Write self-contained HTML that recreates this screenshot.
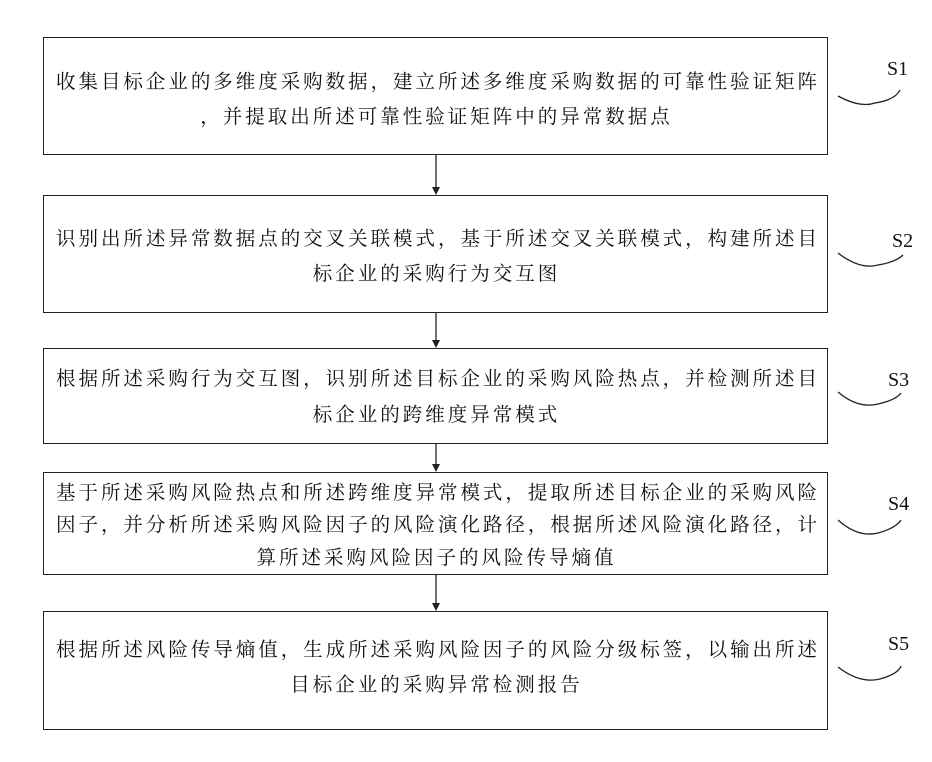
<!DOCTYPE html>
<html><head><meta charset="utf-8"><style>
body{margin:0;width:932px;height:762px;background:#fff;position:relative;overflow:hidden;font-family:"Liberation Serif","Noto Serif CJK SC","Noto Sans CJK SC",serif;color:#111}
.b{position:absolute;left:43px;width:785px;border:1.5px solid #222;box-sizing:border-box}
.l{position:absolute;left:12px;right:10px;font-size:19.5px;white-space:nowrap;text-align:justify;text-align-last:justify}
.c{text-align:center;text-align-last:center;letter-spacing:3px}
.s{position:absolute;font-size:20px;font-family:"Liberation Serif",serif}
</style></head><body>
<div class="b" style="top:37px;height:118px">
<div class="l" style="top:28px">收集目标企业的多维度采购数据，建立所述多维度采购数据的可靠性验证矩阵</div>
<div class="l c" style="top:63px">，并提取出所述可靠性验证矩阵中的异常数据点</div></div>
<div class="b" style="top:195px;height:118px">
<div class="l" style="top:27px">识别出所述异常数据点的交叉关联模式，基于所述交叉关联模式，构建所述目</div>
<div class="l c" style="top:62px">标企业的采购行为交互图</div></div>
<div class="b" style="top:348px;height:96px">
<div class="l" style="top:14px">根据所述采购行为交互图，识别所述目标企业的采购风险热点，并检测所述目</div>
<div class="l c" style="top:50px">标企业的跨维度异常模式</div></div>
<div class="b" style="top:472px;height:103px">
<div class="l" style="top:4px">基于所述采购风险热点和所述跨维度异常模式，提取所述目标企业的采购风险</div>
<div class="l" style="top:36px">因子，并分析所述采购风险因子的风险演化路径，根据所述风险演化路径，计</div>
<div class="l c" style="top:69px">算所述采购风险因子的风险传导熵值</div></div>
<div class="b" style="top:611px;height:119px">
<div class="l" style="top:22px">根据所述风险传导熵值，生成所述采购风险因子的风险分级标签，以输出所述</div>
<div class="l c" style="top:57px">目标企业的采购异常检测报告</div></div>
<svg width="932" height="762" style="position:absolute;left:0;top:0">
<g stroke="#222" stroke-width="1.3" fill="none">
<line x1="436" y1="155" x2="436" y2="188"/>
<line x1="436" y1="313" x2="436" y2="341"/>
<line x1="436" y1="444" x2="436" y2="465"/>
<line x1="436" y1="575" x2="436" y2="604"/>
<path d="M838,96 Q860,108 875,103 Q895,100 900,90"/>
<path d="M838,253 Q860,270 878,265 Q896,262 903,255"/>
<path d="M838,392 Q858,409 878,404 Q896,400 901,393"/>
<path d="M838,520 Q858,538 878,533 Q896,528 901,520"/>
<path d="M838,667 Q860,684 880,679 Q898,674 901,666"/>
</g>
<g fill="#222">
<path d="M432,187 L440,187 L436,195z"/>
<path d="M432,340 L440,340 L436,348z"/>
<path d="M432,464 L440,464 L436,472z"/>
<path d="M432,603 L440,603 L436,611z"/>
</g></svg>
<div class="s" style="left:887px;top:58px">S1</div>
<div class="s" style="left:892px;top:230px">S2</div>
<div class="s" style="left:888px;top:369px">S3</div>
<div class="s" style="left:888px;top:493px">S4</div>
<div class="s" style="left:888px;top:633px">S5</div>
</body></html>
